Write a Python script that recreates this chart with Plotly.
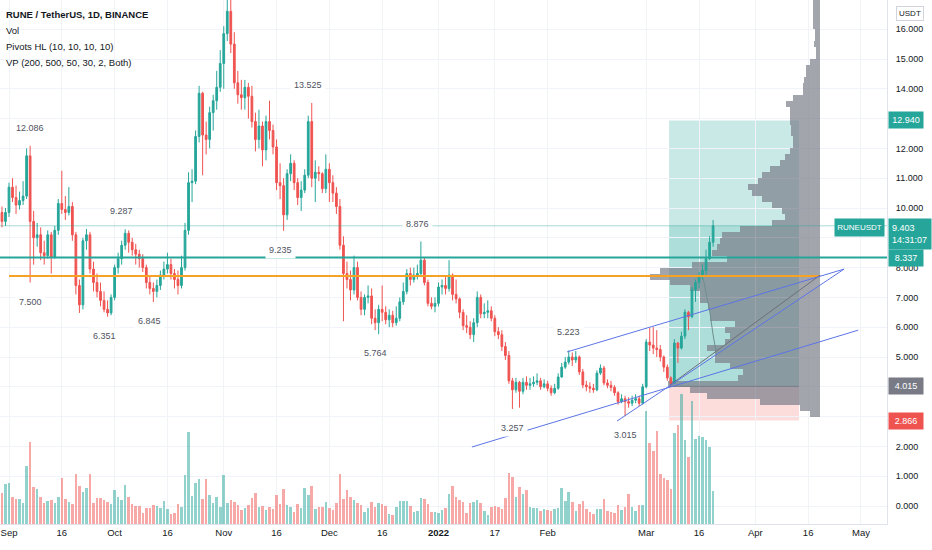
import plotly.graph_objects as go
import pandas as pd

# RUNE / USDT daily candles, 2021-08-30 .. 2022-03-20
dates = pd.date_range("2021-08-30", "2022-03-20", freq="D")

closes = [
    9.55, 9.85, 10.7, 10.35, 10.1, 10.25, 10.4, 11.75, 9.55, 9.0,
    9.1, 8.5, 8.4, 9.1, 8.35, 9.25, 10.15, 9.95, 9.85, 10.05,
    9.1, 7.4, 6.75, 8.9, 9.1, 7.95, 7.5, 7.2, 6.9, 6.6,
    6.48, 7.0, 8.0, 8.3, 8.75, 9.15, 8.85, 8.6, 8.45, 8.3,
    8.0, 7.5, 7.3, 7.2, 7.4, 7.75, 7.95, 8.1, 7.8, 7.6,
    7.4, 8.0, 9.25, 10.85, 10.9, 12.4, 13.85, 12.45, 12.3, 13.2,
    13.6, 14.05, 14.85, 15.85, 16.6, 15.5, 14.2, 13.8, 13.7, 14.05,
    13.75, 12.9, 12.3, 12.75, 11.95, 12.9, 12.6, 12.05, 10.85, 10.75,
    9.77, 11.15, 11.5, 10.85, 10.35, 10.6, 11.1, 12.9, 11.0, 11.2,
    11.15, 10.65, 11.3, 10.85, 10.5, 10.05, 8.75, 7.8, 7.6, 7.25,
    8.0, 7.0, 6.6, 7.0, 7.05, 6.3, 6.15, 6.6, 6.5, 6.25,
    6.4, 6.15, 6.3, 6.85, 7.2, 7.8, 7.6, 7.75, 7.8, 8.25,
    7.5, 6.8, 6.7, 6.8, 7.35, 7.4, 7.3, 7.75, 7.1, 6.95,
    6.5, 6.05, 6.0, 5.75, 6.15, 7.0, 6.45, 6.5, 6.55, 6.3,
    5.85, 5.75, 5.35, 5.05, 4.2, 3.9, 4.15, 3.85, 4.15, 4.05,
    4.1, 4.15, 4.2, 4.0, 4.1, 3.95, 3.8, 3.95, 4.33, 4.66,
    4.83, 5.0, 4.9, 5.0, 4.5, 4.06, 4.0, 3.95, 3.9, 4.46,
    4.63, 4.13, 4.05, 3.98, 3.8, 3.5, 3.6, 3.5, 3.45, 3.55,
    3.6, 3.45, 4.0, 5.5, 5.4, 5.3, 5.25, 5.0, 4.66, 4.3,
    4.12, 5.47, 5.3, 5.7, 6.5, 6.35, 7.25, 7.5, 7.7, 7.9,
    8.3, 8.85, 9.403,
]
highs = [
    10.05, 10.0, 10.85, 11.0, 10.75, 10.55, 10.9, 12.0, 12.086, 9.9,
    9.5, 9.35, 8.9, 9.25, 9.2, 9.4, 10.3, 11.25, 10.4, 10.7,
    10.2, 9.2, 7.6, 9.0, 9.3, 9.2, 8.2, 7.8, 7.5, 7.2,
    6.9, 7.1, 8.1, 8.5, 8.9, 9.287, 9.25, 9.0, 8.8, 8.6,
    8.45, 8.1, 7.7, 7.5, 7.6, 7.9, 8.2, 8.5, 8.3, 7.95,
    7.9, 8.4, 9.5, 11.2, 11.3, 12.6, 14.1, 13.9, 12.9, 13.4,
    13.8, 14.6, 15.3, 16.1, 17.3, 17.2, 15.9, 14.6, 14.3, 14.3,
    14.2, 14.1, 13.2, 13.3, 12.9, 13.1, 13.6, 12.8, 12.3, 11.5,
    11.0, 11.3, 11.8, 11.6, 11.0, 10.9, 11.3, 13.1, 13.525, 11.6,
    11.4, 11.2, 11.8, 11.5, 11.1, 10.7, 10.3, 9.05, 8.2, 7.9,
    8.4, 8.2, 7.2, 7.1, 7.4, 7.3, 6.6, 6.75, 7.4, 6.7,
    6.6, 6.55, 6.7, 7.0, 7.5, 7.95, 8.0, 8.0, 8.1, 8.876,
    8.35, 7.6, 7.0, 7.0, 7.5, 7.6, 7.7, 8.25, 7.8, 7.6,
    7.0, 6.6, 6.4, 6.2, 6.3, 7.2, 7.1, 6.8, 6.9, 6.7,
    6.4, 6.0, 5.9, 5.5, 5.2, 4.3, 4.3, 4.2, 4.3, 4.35,
    4.3, 4.35, 4.45, 4.3, 4.25, 4.2, 4.05, 4.1, 4.45, 4.8,
    5.0, 5.223, 5.15, 5.2, 5.05, 4.6, 4.2, 4.15, 4.1, 4.55,
    4.75, 4.7, 4.25, 4.2, 4.05, 3.85, 3.75, 3.7, 3.65, 3.7,
    3.75, 3.7, 4.1, 5.6, 5.97, 6.0, 5.9, 5.4, 5.05, 4.75,
    4.35, 5.6, 5.5, 5.85, 6.6, 6.55, 7.35, 7.6, 7.85, 8.1,
    8.6, 9.05, 9.6,
]
lows = [
    9.35, 9.4, 9.7, 10.2, 9.8, 9.95, 10.1, 10.3, 7.5, 8.1,
    8.7, 8.25, 8.1, 8.3, 7.8, 8.3, 9.1, 9.8, 9.6, 9.75,
    8.9, 7.1, 6.48, 6.6, 8.6, 7.8, 7.2, 7.0, 6.7, 6.5,
    6.351, 6.4, 6.9, 7.8, 8.1, 8.6, 8.5, 8.4, 8.1, 8.0,
    7.85, 7.3, 7.1, 6.845, 7.0, 7.25, 7.6, 7.8, 7.6, 7.3,
    7.1, 7.3, 7.9, 9.1, 10.2, 10.8, 12.2, 11.1, 11.8, 12.0,
    12.6, 13.3, 13.9, 14.0, 15.6, 15.2, 14.0, 13.5, 13.3, 13.3,
    13.0, 12.7, 11.9, 12.0, 11.4, 11.6, 12.3, 11.8, 10.6, 10.3,
    9.235, 9.6, 10.9, 10.6, 10.1, 9.9, 10.5, 11.0, 10.7, 10.2,
    10.9, 10.5, 10.5, 10.2, 10.2, 9.8, 8.6, 6.2, 7.3, 6.9,
    7.1, 6.9, 6.4, 6.4, 6.8, 6.1, 5.9, 5.764, 6.2, 6.1,
    6.0, 6.0, 6.05, 6.2, 6.75, 7.1, 7.4, 7.5, 7.6, 7.7,
    7.4, 6.7, 6.6, 6.5, 6.7, 7.1, 7.1, 7.2, 6.9, 6.8,
    6.3, 5.9, 5.8, 5.6, 5.5, 6.0, 6.3, 6.3, 6.3, 6.2,
    5.7, 5.6, 5.2, 4.9, 4.1, 3.257, 3.8, 3.3, 3.75, 3.9,
    3.9, 4.0, 4.05, 3.9, 3.95, 3.85, 3.7, 3.75, 3.9, 4.3,
    4.6, 4.75, 4.7, 4.8, 4.4, 3.95, 3.85, 3.8, 3.8, 3.85,
    4.4, 4.05, 3.95, 3.85, 3.7, 3.4, 3.45, 3.015, 3.3, 3.35,
    3.45, 3.35, 3.4, 3.95, 5.2, 5.1, 5.0, 4.85, 4.5, 4.2,
    4.015, 4.1, 4.8, 5.25, 5.6, 5.9, 6.3, 6.85, 7.3, 7.6,
    7.75, 8.25, 8.7,
]
# crypto candles open at the previous close
opens = [9.85] + closes[:-1]

volume = [
    31, 40, 41, 27, 25, 25, 21, 58, 82, 37,
    35, 27, 21, 23, 24, 21, 27, 46, 25, 22,
    20, 50, 38, 32, 36, 50, 21, 26, 26, 24,
    22, 20, 34, 27, 24, 39, 27, 20, 18, 18,
    11, 16, 16, 19, 18, 16, 23, 15, 10, 11,
    20, 17, 49, 92, 28, 41, 45, 25, 45, 29,
    21, 27, 17, 49, 21, 24, 22, 19, 14, 16,
    19, 26, 31, 17, 18, 14, 17, 15, 29, 20,
    35, 19, 17, 12, 20, 16, 36, 29, 38, 15,
    17, 17, 22, 16, 14, 21, 50, 25, 34, 27,
    24, 21, 19, 12, 16, 22, 17, 21, 20, 18,
    10, 9, 17, 23, 23, 23, 18, 12, 13, 26,
    25, 20, 12, 12, 11, 14, 16, 30, 38,
    27, 24, 22, 11, 21, 22, 24, 21, 13, 9,
    17, 18, 17, 15, 26, 51, 47, 27, 37, 30,
    34, 17, 16, 16, 13, 15, 14, 13, 15, 16,
    36, 23, 32, 22, 13, 20, 23, 15, 12, 10,
    15, 15, 25, 13, 12, 11, 19, 14, 17, 30,
    17, 13, 19, 19, 113, 81, 73, 93, 50, 46,
    44, 35, 91, 99, 130, 84, 67, 123, 85, 88,
    87, 84, 77, 33,
]

# volume profile rows (bottom to top), 0.2 USDT per row
vp_volume = [
    10, 20, 60, 113, 130, 152, 82, 77, 90, 105,
    105, 113, 95, 90, 95, 85, 110, 110, 112, 120,
    120, 130, 150, 170, 160, 128, 93, 108, 103, 100,
    98, 80, 48, 35, 38, 48, 58, 68, 72, 62,
    58, 50, 40, 35, 30, 27, 27, 29, 29, 30,
    30, 30, 34, 27, 17, 17, 16, 14, 14, 10,
    4, 4, 6, 5, 5, 7, 7, 7, 7, 7, 7,
]
vp_price = [round(3.1 + 0.2 * i, 1) for i in range(len(vp_volume))]

# pivots HL
pivot_dates = ["2021-09-07", "2021-09-07", "2021-09-28", "2021-10-03", "2021-10-11",
               "2021-11-17", "2021-11-25", "2021-12-14", "2021-12-26", "2022-01-22",
               "2022-02-07", "2022-02-23"]
pivot_prices = [12.086, 7.500, 6.351, 9.287, 6.845, 9.235, 13.525, 5.764, 8.876,
                3.257, 5.223, 3.015]
pivot_is_high = [True, False, False, True, False, False, True, False, True,
                 False, True, False]

# levels and drawings
entry, target, stop, last = 4.015, 12.940, 2.866, 9.403
level_line = 8.337
poc_level = 7.72
box_start, box_end = "2022-03-07 12:00", "2022-04-13 10:00"
poc_start, poc_end = "2021-09-01", "2022-04-19 10:00"
trend_lines = [
    ("2022-02-06 12:00", 5.17, "2022-04-26 05:00", 7.95),
    ("2022-01-10 12:00", 1.98, "2022-04-30 05:00", 5.90),
    ("2022-02-20 17:00", 2.85, "2022-04-26 05:00", 7.95),
]
diag_line = ("2022-03-07 19:00", 4.06, "2022-04-19 10:00", 7.75)
dev_poc_dates = ["2022-03-17 05:00", "2022-03-18 07:00", "2022-03-19 02:00",
                 "2022-03-20 00:00", "2022-03-20 22:00"]
dev_poc_prices = [7.62, 7.01, 6.51, 5.74, 5.13]

x_ticks = ["2021-09-01", "2021-09-16", "2021-10-01", "2021-10-16", "2021-11-01",
           "2021-11-16", "2021-12-01", "2021-12-16", "2022-01-01", "2022-01-17",
           "2022-02-01", "2022-03-01", "2022-03-16", "2022-04-01", "2022-04-16",
           "2022-05-01"]
x_labels = ["Sep", "16", "Oct", "16", "Nov", "16", "Dec", "16", "<b>2022</b>", "17",
            "Feb", "Mar", "16", "Apr", "16", "May"]

# price scale: labels hidden behind the price tags are left blank
y_ticks = list(range(0, 17))
y_labels = ["0.000", "1.000", "2.000", "", "", "5.000", "6.000", "7.000", "8.000", "",
            "10.000", "11.000", "12.000", "", "14.000", "15.000", "16.000"]

UP = "#26a69a"
DOWN = "#ef5350"
FONT = "Liberation Sans, Arial, sans-serif"
TXT = "#131722"

vol_colors = ["rgba(38,166,154,0.5)" if c >= o else "rgba(239,83,80,0.5)"
              for o, c in zip(opens, closes)]

fig = go.Figure()

# volume profile on the base axes so candles draw over it
fig.add_trace(go.Bar(
    y=vp_price, x=vp_volume, orientation="h", width=0.2,
    marker=dict(color="rgba(120,123,134,0.68)", line=dict(width=0)),
    xaxis="x", yaxis="y", hoverinfo="skip", showlegend=False,
))

fig.add_trace(go.Candlestick(
    x=dates, open=opens, high=highs, low=lows, close=closes,
    increasing=dict(line=dict(color=UP, width=1), fillcolor=UP),
    decreasing=dict(line=dict(color=DOWN, width=1), fillcolor=DOWN),
    whiskerwidth=0, xaxis="x2", yaxis="y", showlegend=False,
))

fig.add_trace(go.Bar(
    x=dates, y=volume, width=0.72 * 86400000,
    marker=dict(color=vol_colors, line=dict(width=0)),
    xaxis="x2", yaxis="y3", hoverinfo="skip", showlegend=False,
))

fig.add_trace(go.Scatter(
    x=dev_poc_dates, y=dev_poc_prices, mode="lines",
    line=dict(color="#6f8e8b", width=1),
    xaxis="x2", yaxis="y", hoverinfo="skip", showlegend=False,
))

shapes = [
    # long position tool
    dict(type="rect", xref="x2", yref="y", x0=box_start, x1=box_end, y0=entry, y1=target,
         fillcolor="rgba(38,166,154,0.25)", line=dict(width=0), layer="below"),
    dict(type="rect", xref="x2", yref="y", x0=box_start, x1=box_end, y0=entry, y1=last,
         fillcolor="rgba(38,166,154,0.16)", line=dict(width=0), layer="below"),
    dict(type="rect", xref="x2", yref="y", x0=box_start, x1=box_end, y0=stop, y1=entry,
         fillcolor="rgba(239,83,80,0.2)", line=dict(width=0), layer="below"),
    dict(type="line", xref="x2", yref="y", x0=box_start, x1=box_end, y0=entry, y1=entry,
         line=dict(color="#787b86", width=1)),
    # last price line
    dict(type="line", xref="paper", yref="y", x0=0, x1=1, y0=last, y1=last,
         line=dict(color="rgba(38,166,154,0.4)", width=1)),
    # horizontal level and VP point of control
    dict(type="line", xref="paper", yref="y", x0=0, x1=1, y0=level_line, y1=level_line,
         line=dict(color=UP, width=2)),
    dict(type="line", xref="x2", yref="y", x0=poc_start, x1=poc_end, y0=poc_level, y1=poc_level,
         line=dict(color="#f5a225", width=2)),
    dict(type="line", xref="x2", yref="y", x0=diag_line[0], y0=diag_line[1],
         x1=diag_line[2], y1=diag_line[3], line=dict(color="#6b6f7a", width=1)),
]
for x0, y0, x1, y1 in trend_lines:
    shapes.append(dict(type="line", xref="x2", yref="y", x0=x0, y0=y0, x1=x1, y1=y1,
                       line=dict(color="#5c74e6", width=1)))

PW, PH = 887.0, 524.0  # plot area in px

annotations = []
legend_rows = ["<b>RUNE / TetherUS, 1D, BINANCE</b>", "Vol", "Pivots HL (10, 10, 10, 10)",
               "VP (200, 500, 50, 30, 2, Both)"]
for i, txt in enumerate(legend_rows):
    annotations.append(dict(
        text=txt, xref="paper", yref="paper", x=4 / PW, y=1 - (15 + 15.7 * i) / PH,
        xanchor="left", yanchor="middle", showarrow=False,
        font=dict(family=FONT, size=9.5, color=TXT),
    ))

for d, p, hi in zip(pivot_dates, pivot_prices, pivot_is_high):
    annotations.append(dict(
        text="%.3f" % p, xref="x2", yref="y", x=d, y=p, yshift=18 if hi else -19,
        showarrow=False, bgcolor="white", borderpad=3,
        font=dict(family=FONT, size=9, color="#50535e"),
    ))

def price_tag(value, bg, text=None):
    return dict(
        text=text or "%.3f" % value, xref="paper", yref="y", x=888 / PW, y=value,
        xanchor="left", yanchor="middle", showarrow=False, bgcolor=bg,
        width=30, height=12, borderpad=2, font=dict(family=FONT, size=9, color="white"),
    )

annotations += [
    price_tag(target, UP),
    price_tag(level_line, UP),
    price_tag(entry, "#787b86"),
    price_tag(stop, DOWN),
    dict(text="%.3f<br>14:31:07" % last, xref="paper", yref="y", x=888 / PW, y=last,
         xanchor="left", yanchor="top", yshift=8, showarrow=False, bgcolor=UP,
         width=36, height=24, borderpad=3, align="left",
         font=dict(family=FONT, size=9, color="white")),
    dict(text="RUNEUSDT", xref="paper", yref="y", x=885 / PW, y=last,
         xanchor="right", yanchor="top", yshift=8, showarrow=False, bgcolor=UP,
         width=45, height=13, borderpad=2,
         font=dict(family=FONT, size=8, color="white")),
    dict(text="USDT", xref="paper", yref="paper", x=910 / PW, y=1 - 14 / PH,
         xanchor="center", yanchor="middle", showarrow=False, bgcolor="white",
         bordercolor="#d1d4dc", borderwidth=1, borderpad=2,
         font=dict(family=FONT, size=8, color=TXT)),
]

fig.update_layout(
    width=932, height=550,
    margin=dict(l=0, r=45, t=0, b=26, autoexpand=False),
    paper_bgcolor="white", plot_bgcolor="white",
    showlegend=False, bargap=0,
    xaxis=dict(domain=[0, 1], range=[820, -67], visible=False, fixedrange=True,
               automargin=False),
    xaxis2=dict(
        type="date", overlaying="x", anchor="y", side="bottom",
        range=["2021-08-29 10:38", "2022-05-08 09:36"],
        tickvals=x_ticks, ticktext=x_labels, ticks="", automargin=False,
        showgrid=True, gridcolor="#f2f3f7", zeroline=False,
        showline=True, linecolor="#e0e3eb",
        tickfont=dict(family=FONT, size=9.5, color=TXT),
        rangeslider=dict(visible=False),
    ),
    yaxis=dict(
        side="right", anchor="x", range=[-0.604, 16.98],
        tickvals=y_ticks, ticktext=y_labels, ticks="", ticklabelstandoff=6,
        automargin=False, showgrid=True, gridcolor="#f0f3fa", zeroline=False,
        showline=True, linecolor="#e0e3eb",
        tickfont=dict(family=FONT, size=9, color=TXT),
    ),
    yaxis3=dict(overlaying="y", anchor="x2", range=[0, max(volume) * 4.03], visible=False,
                automargin=False),
    shapes=shapes,
    annotations=annotations,
)

# the page body has a default 8px margin; drop it so the chart fills the window
fig.write_html("out.html", config={"displayModeBar": False},
               post_script="document.body.style.margin='0';")
